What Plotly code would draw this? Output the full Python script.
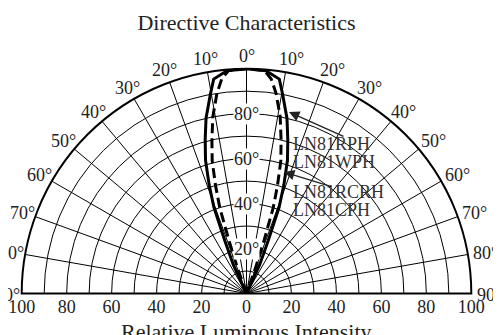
import math
import plotly.graph_objects as go

# angle (deg) from the axis -> relative luminous intensity (%)
solid_angle = [0, 5, 8.7, 10.3, 13, 15, 17.1, 19, 20.7, 22.3, 24.6, 26.5]
solid_r = [100, 99.5, 96.5, 90, 80, 71, 62, 51, 41, 25.5, 14, 0]
dash_angle = [0, 4.6, 6.6, 8.4, 10.8, 12.7, 14.5, 16, 17.3, 18.3, 19.5, 21]
dash_r = [100, 99.5, 96, 90, 80, 70, 61, 50, 40, 25, 12, 0]

angle_ticks = [0, 10, 20, 30, 40, 50, 60, 70, 80, 90, 100, 110, 120, 130, 140, 150, 160, 170, 180]
radial_grid = [10, 20, 30, 40, 50, 60, 70, 80, 90, 100]
radial_labels = [20, 40, 60, 80]
x_ticks = [-100, -80, -60, -40, -20, 0, 20, 40, 60, 80, 100]

W, H = 501, 335
OFF = 8  # the page body margin shifts the figure inside the window
CX, CY, R = 246.5, 293.5, 224.8  # window pixels
FONT = "Liberation Serif"


def px(x):
    return (x - OFF) / W


def py(y):
    return 1 - (y - OFF) / H


def mirror(angles, r):
    # angle measured from the vertical axis -> polar theta (90 = straight up)
    theta = [90 + a for a in reversed(angles)] + [90 - a for a in angles[1:]]
    rr = list(reversed(r)) + r[1:]
    return theta, rr


xdom = [px(CX - R), px(CX + R)]
ydom = [py(CY), py(CY - R)]

fig = go.Figure()

th, rr = mirror(solid_angle, solid_r)
fig.add_trace(go.Scatterpolar(theta=th, r=rr, mode="lines",
                              line=dict(color="black", width=3), name="LN81RPH / LN81WPH"))
th, rr = mirror(dash_angle, dash_r)
fig.add_trace(go.Scatterpolar(theta=th, r=rr, mode="lines",
                              line=dict(color="black", width=3, dash="10px,5px"),
                              name="LN81RCRH / LN81CPH"))

# invisible trace so the cartesian intensity axis is drawn under the half circle
fig.add_trace(go.Scatter(x=x_ticks, y=[0] * len(x_ticks), mode="markers",
                         marker=dict(opacity=0), hoverinfo="skip"))

annotations = []

# angle labels just outside the rim
for t in angle_ticks:
    a = math.radians(90 - t)
    sx = CX + (R + 14) * math.sin(a) + (4 if t < 90 else 0)
    sy = CY - (R + 14) * math.cos(a) + 1
    annotations.append(dict(x=px(sx), y=py(sy), xref="paper", yref="paper",
                            xanchor="center", yanchor="middle",
                            text=f"{abs(90 - t)}°", showarrow=False,
                            font=dict(family=FONT, size=18, color="#222")))

for r in radial_labels:
    annotations.append(dict(x=px(CX), y=py(CY - r / 100 * R), xref="paper", yref="paper",
                            xanchor="center", yanchor="middle",
                            text=f"{r}°", showarrow=False, bgcolor="white", borderpad=0,
                            font=dict(family=FONT, size=18, color="#222")))

for txt, y in [("LN81RPH", 143.5), ("LN81WPH", 161.5), ("LN81RCRH", 191.5), ("LN81CPH", 210)]:
    annotations.append(dict(x=px(291), y=py(y), xref="paper", yref="paper", text=txt,
                            showarrow=False, xanchor="left", yanchor="middle",
                            font=dict(family=FONT, size=18, color="#333")))

for hx, hy, ax, ay in [(289, 112, 56, 25), (284, 172, 49, 15)]:
    annotations.append(dict(x=px(hx), y=py(hy), xref="paper", yref="paper", text="",
                            showarrow=True, arrowhead=2, arrowsize=1.6, arrowwidth=1.3,
                            arrowcolor="#222", ax=ax, ay=ay))

annotations.append(dict(x=px(CX), y=py(331), xref="paper", yref="paper",
                        text="Relative Luminous Intensity", showarrow=False,
                        xanchor="center", yanchor="middle",
                        font=dict(family=FONT, size=22, color="#222")))

# edge of the neighbouring chart, clipped by the frame
annotations.append(dict(x=px(503), y=py(111), xref="paper", yref="paper",
                        text="Forward Current", textangle=-90, showarrow=False,
                        xanchor="center", yanchor="bottom",
                        font=dict(family=FONT, size=15, color="#444")))

fig.update_layout(
    width=W, height=H,
    margin=dict(l=0, r=0, t=0, b=0, autoexpand=False),
    paper_bgcolor="white", plot_bgcolor="white",
    showlegend=False,
    title=dict(text="Directive Characteristics", x=px(CX), y=py(22), xref="paper",
               yref="paper", xanchor="center", yanchor="middle",
               font=dict(family=FONT, size=22, color="#222")),
    polar=dict(
        domain=dict(x=xdom, y=ydom),
        sector=[0, 180],
        bgcolor="white",
        angularaxis=dict(tickmode="array", tickvals=angle_ticks, showticklabels=False,
                         ticks="", showgrid=True, gridcolor="black", gridwidth=1,
                         showline=True, linecolor="black", linewidth=2),
        radialaxis=dict(range=[0, 100], tickmode="array", tickvals=radial_grid,
                        showticklabels=False, ticks="", showline=False, angle=90,
                        gridcolor="black", gridwidth=1),
    ),
    xaxis=dict(domain=xdom, range=[-100, 100], tickmode="array", tickvals=x_ticks,
               ticktext=[str(abs(v)) for v in x_ticks], showgrid=False, zeroline=False,
               showline=False, ticks="", fixedrange=True, automargin=False,
               tickfont=dict(family=FONT, size=18, color="#222")),
    yaxis=dict(domain=ydom, range=[0, 1], visible=False, fixedrange=True, automargin=False),
    annotations=annotations,
    shapes=[dict(type="line", xref="paper", yref="paper", x0=px(500.5), x1=px(500.5),
                 y0=py(0), y1=py(118), line=dict(color="#bbb", width=1, dash="dot"))],
)

fig.write_html("out.html")
